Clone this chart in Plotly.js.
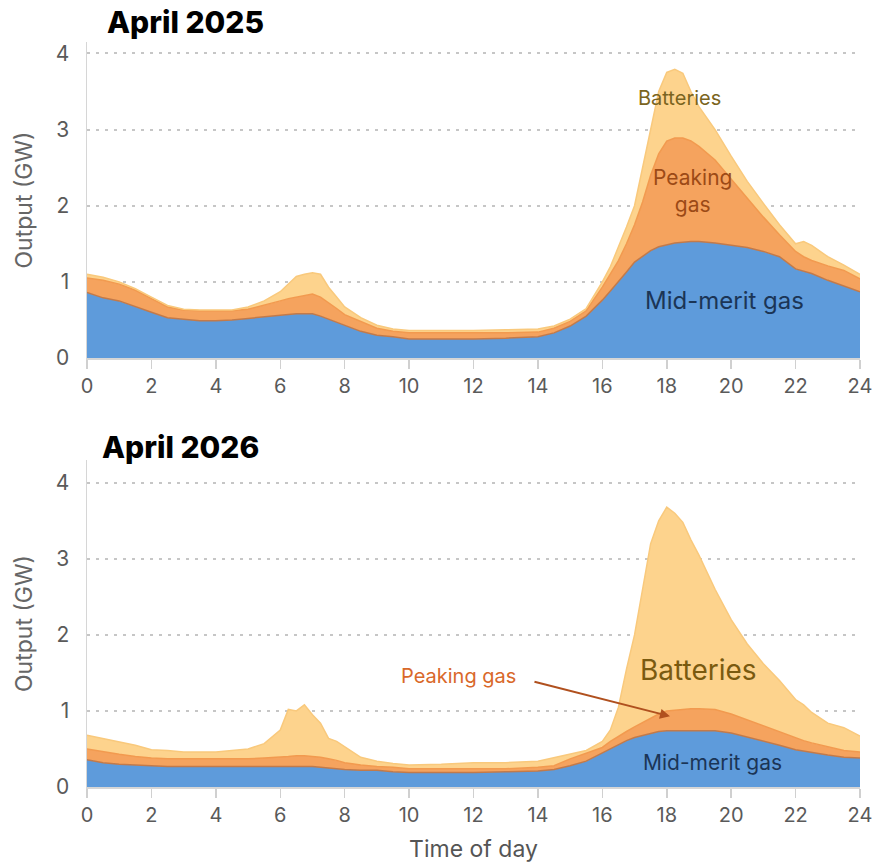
<!DOCTYPE html>
<html>
<head>
<meta charset="utf-8">
<script src="https://cdn.plot.ly/plotly-3.0.1.min.js"></script>
<style>html,body{margin:0;padding:0;background:#fff;}</style>
</head>
<body>
<div id="chart" style="width:874px;height:863px;"></div>
<script>
// Time of day (hours)
const hours = [0,0.5,1,1.5,2,2.5,3,3.5,4,4.5,5,5.5,6,6.25,6.5,6.75,7,7.25,7.5,7.75,8,8.5,9,9.5,10,11,12,13,14,14.5,15,15.5,16,16.25,16.5,16.75,17,17.25,17.5,17.75,18,18.25,18.5,18.75,19,19.5,20,20.5,21,21.5,22,22.25,22.5,23,23.5,24];

// April 2025 output (GW)
const midMerit2025 = [0.86,0.79,0.75,0.67,0.60,0.53,0.51,0.49,0.49,0.50,0.52,0.54,0.56,0.57,0.58,0.58,0.58,0.55,0.51,0.47,0.42,0.35,0.30,0.28,0.25,0.25,0.25,0.26,0.28,0.33,0.42,0.55,0.76,0.88,1.00,1.13,1.26,1.34,1.41,1.46,1.49,1.51,1.52,1.53,1.53,1.51,1.48,1.45,1.40,1.33,1.17,1.14,1.11,1.02,0.95,0.87];
const peaking2025  = [0.19,0.23,0.22,0.22,0.18,0.14,0.12,0.13,0.13,0.12,0.12,0.15,0.19,0.21,0.22,0.24,0.26,0.25,0.22,0.18,0.15,0.13,0.09,0.07,0.08,0.08,0.08,0.07,0.06,0.06,0.06,0.07,0.17,0.22,0.28,0.37,0.49,0.71,0.99,1.22,1.36,1.38,1.37,1.32,1.25,1.09,0.87,0.65,0.45,0.29,0.23,0.19,0.17,0.19,0.20,0.17];
const batteries2025 = [0.05,0.04,0.03,0.02,0.02,0.02,0.01,0.01,0.01,0.01,0.03,0.06,0.12,0.19,0.27,0.28,0.28,0.30,0.20,0.15,0.10,0.05,0.04,0.03,0.03,0.03,0.03,0.04,0.04,0.03,0.03,0.03,0.07,0.10,0.17,0.22,0.25,0.45,0.60,0.82,0.90,0.90,0.85,0.65,0.52,0.40,0.30,0.22,0.18,0.13,0.10,0.20,0.20,0.12,0.07,0.06];

// April 2026 output (GW)
const midMerit2026 = [0.36,0.32,0.30,0.29,0.28,0.27,0.27,0.27,0.27,0.27,0.27,0.27,0.27,0.27,0.27,0.27,0.27,0.26,0.25,0.24,0.23,0.22,0.22,0.20,0.19,0.19,0.19,0.20,0.21,0.23,0.28,0.34,0.45,0.50,0.56,0.61,0.65,0.68,0.71,0.73,0.74,0.74,0.74,0.74,0.74,0.74,0.71,0.66,0.60,0.55,0.49,0.47,0.45,0.42,0.39,0.38];
const peaking2026  = [0.14,0.14,0.13,0.11,0.10,0.10,0.10,0.10,0.10,0.10,0.10,0.11,0.12,0.13,0.14,0.14,0.13,0.13,0.12,0.11,0.09,0.07,0.05,0.06,0.05,0.05,0.05,0.04,0.05,0.05,0.09,0.10,0.07,0.10,0.11,0.12,0.14,0.17,0.20,0.23,0.26,0.27,0.28,0.29,0.29,0.28,0.25,0.22,0.20,0.18,0.16,0.14,0.13,0.11,0.09,0.08];
const batteries2026 = [0.18,0.18,0.16,0.15,0.11,0.11,0.09,0.09,0.09,0.11,0.13,0.19,0.36,0.62,0.59,0.67,0.55,0.45,0.27,0.25,0.21,0.10,0.07,0.05,0.05,0.06,0.08,0.08,0.08,0.11,0.07,0.04,0.08,0.15,0.38,0.82,1.21,1.75,2.29,2.54,2.68,2.59,2.46,2.22,2.02,1.58,1.24,1.00,0.82,0.67,0.50,0.47,0.40,0.31,0.30,0.21];

const xTicks = [0,2,4,6,8,10,12,14,16,18,20,22,24];
const yTicks = [0,1,2,3,4];

const seriesNames = ['Mid-merit gas','Peaking gas','Batteries'];
const fillColors = ['#5e9bdb','#f5a35e','#fdd38d'];
const lineColors = ['#c27a4a','#f29a4f','#f9c97c'];

function stackTraces(vals, xa, ya, grp) {
  return vals.map((v, i) => ({
    x: hours, y: v, type: 'scatter', mode: 'lines',
    stackgroup: grp, name: seriesNames[i],
    xaxis: xa, yaxis: ya,
    fillcolor: fillColors[i],
    line: {color: lineColors[i], width: 1.5},
    hoverinfo: 'skip'
  }));
}

const data = [
  ...stackTraces([midMerit2025, peaking2025, batteries2025], 'x', 'y', 'a'),
  ...stackTraces([midMerit2026, peaking2026, batteries2026], 'x2', 'y2', 'b')
];

const H = 863;
const xBase = {
  range: [0, 24], tickvals: xTicks, ticktext: xTicks.map(String),
  ticks: 'outside', ticklen: 9, tickcolor: '#d0d0d0', tickwidth: 1.5,
  showline: true, linecolor: '#d6d6d6', linewidth: 2,
  showgrid: false, zeroline: false,
  tickfont: {size: 20, color: '#5a5a5a', family: 'Inter, sans-serif'},
  fixedrange: true
};
const yBase = {
  tickvals: yTicks, ticktext: yTicks.map(String),
  showgrid: true, gridcolor: '#c6c6c6', griddash: '3px,6px', gridwidth: 2,
  zeroline: false, showline: true, linecolor: '#d6d6d6', linewidth: 1.5,
  ticks: '', ticklabelstandoff: 12,
  tickfont: {size: 21, color: '#5a5a5a', family: 'Inter, sans-serif'},
  fixedrange: true
};

const layout = {
  width: 874, height: 863,
  margin: {l: 87, r: 14, t: 0, b: 0},
  paper_bgcolor: '#ffffff', plot_bgcolor: '#ffffff',
  showlegend: false,
  font: {family: 'Inter, sans-serif', color: '#555'},
  xaxis: Object.assign({}, xBase, {anchor: 'y', domain: [0, 1]}),
  yaxis: Object.assign({}, yBase, {anchor: 'x', domain: [1 - 358 / H, 1 - 42 / H], range: [0, 4.15],
    title: {text: 'Output (GW)', font: {size: 23, color: '#666'}, standoff: 16}}),
  xaxis2: Object.assign({}, xBase, {anchor: 'y2', domain: [0, 1],
    title: {text: 'Time of day', font: {size: 23, color: '#555'}, standoff: 17}}),
  yaxis2: Object.assign({}, yBase, {anchor: 'x2', domain: [1 - 787 / H, 1 - 460 / H], range: [0, 4.3],
    title: {text: 'Output (GW)', font: {size: 23, color: '#666'}, standoff: 16}}),
  annotations: [
    {xref: 'paper', yref: 'paper', x: (105 - 87) / 773, y: 1 - 22 / H, xanchor: 'left', yanchor: 'middle',
     text: 'April 2025', showarrow: false, font: {size: 30, color: '#000', family: 'Inter, sans-serif', weight: 800}},
    {xref: 'paper', yref: 'paper', x: (100 - 87) / 773, y: 1 - 447 / H, xanchor: 'left', yanchor: 'middle',
     text: 'April 2026', showarrow: false, font: {size: 30, color: '#000', family: 'Inter, sans-serif', weight: 800}},
    // top chart labels
    {xref: 'x', yref: 'y', x: 18.4, y: 3.42, text: 'Batteries', showarrow: false,
     font: {size: 20, color: '#7a6420'}},
    {xref: 'x', yref: 'y', x: 18.8, y: 2.19, text: 'Peaking<br>gas', showarrow: false,
     font: {size: 21, color: '#9c4a16'}},
    {xref: 'x', yref: 'y', x: 19.78, y: 0.76, text: 'Mid-merit gas', showarrow: false,
     font: {size: 24, color: '#1b3556'}},
    // bottom chart labels
    {xref: 'x2', yref: 'y2', x: 18.98, y: 1.54, text: 'Batteries', showarrow: false,
     font: {size: 28, color: '#7a5a10'}},
    {xref: 'x2', yref: 'y2', x: 11.52, y: 1.46, text: 'Peaking gas', showarrow: false,
     font: {size: 20, color: '#d9682a'}},
    {xref: 'x2', yref: 'y2', x: 18.1, y: 0.93, text: '', showarrow: true, axref: 'pixel', ayref: 'pixel',
     ax: -137, ay: -35, arrowhead: 2, arrowsize: 1, arrowwidth: 2, arrowcolor: '#b0501e', standoff: 0},
    {xref: 'x2', yref: 'y2', x: 19.41, y: 0.32, text: 'Mid-merit gas', showarrow: false,
     font: {size: 21, color: '#1b3556'}}
  ]
};

Plotly.newPlot('chart', data, layout, {displayModeBar: false, staticPlot: true});
</script>
</body>
</html>
